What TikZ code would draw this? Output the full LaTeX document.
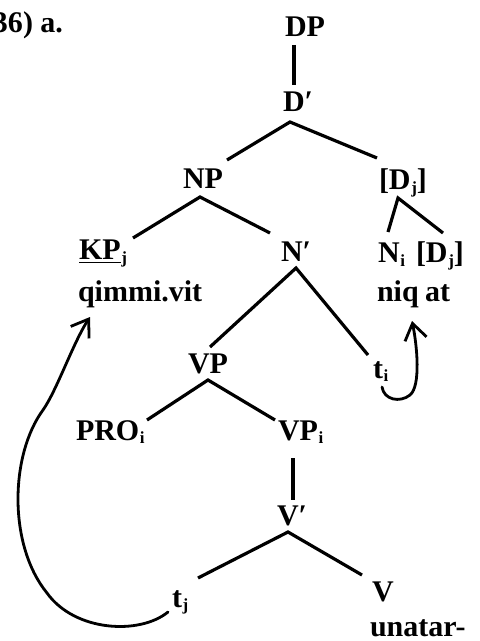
\documentclass[tikz,border=0pt]{standalone}
\usepackage{fontspec}
\setmainfont{Liberation Serif}[Ligatures=ResetAll]
\usetikzlibrary{arrows.meta}
\newcommand\lsub[1]{\kern0.3pt\raisebox{-0.25ex}{\fontsize{8.5pt}{8.5pt}\selectfont #1}}
\newcommand\prm{\char"2032\relax}
\begin{document}
\begin{tikzpicture}[x=0.5pt,y=-0.5pt,
  lab/.style={anchor=base west,inner sep=0pt,outer sep=0pt,
    font=\bfseries\fontsize{15pt}{18pt}\selectfont},
  edge/.style={line width=1.6pt},
  mv/.style={line width=1.4pt,line cap=round,
    -{Straight Barb[length=8pt,width=11pt,line width=1.4pt]}}]
\useasboundingbox (0,0) rectangle (480,641);
% labels
\node[lab] (ex) at (-7,33) {36) a.};
\node[lab] (DP) at (285,37) {DP};
\node[lab] (Dbar) at (283,112) {D\prm};
\node[lab] (NP) at (183,189) {NP};
\node[lab] (Dj) at (379,190) {[D\lsub{j}]};
\node[lab] (KP) at (79,260) {\underline{KP}\lsub{j}};
\node[lab] (qv) at (78,301) {qimmi.vit};
\node[lab] (Nbar) at (281,262) {N\prm};
\node[lab] (Ni) at (378,263) {N\lsub{i}};
\node[lab] (Dj2) at (416,263) {[D\lsub{j}]};
\node[lab] (niq) at (377,301) {niq};
\node[lab] (at) at (425,301) {at};
\node[lab] (VP) at (188,373) {VP};
\node[lab] (ti) at (373,378) {t\lsub{i}};
\node[lab] (PRO) at (76,440) {PRO\lsub{i}};
\node[lab] (VPi) at (278,440) {VP\lsub{i}};
\node[lab] (Vbar) at (277,525) {V\prm};
\node[lab] (tj) at (172,607) {t\lsub{j}};
\node[lab] (V) at (372,601) {V};
\node[lab] (un) at (370,636) {unatar-};
% tree edges
\draw[edge] ([shift={(9,8)}]DP.base west) -- ([shift={(11,-27)}]Dbar.base west);
\draw[edge] ([shift={(44,-29)}]NP.base west) -- ([shift={(7,10)}]Dbar.base west) -- ([shift={(-2,-32)}]Dj.base west);
\draw[edge] ([shift={(54,-22)}]KP.base west) -- ([shift={(17,8)}]NP.base west) -- ([shift={(-11,-29)}]Nbar.base west);
\draw[edge] ([shift={(10,-31)}]Ni.base west) -- ([shift={(19,8)}]Dj.base west) -- ([shift={(27,-30)}]Dj2.base west);
\draw[edge] ([shift={(22,-26)}]VP.base west) -- ([shift={(15,6)}]Nbar.base west) -- ([shift={(-5,-23)}]ti.base west);
\draw[edge] ([shift={(71,-20)}]PRO.base west) -- ([shift={(20,7)}]VP.base west) -- ([shift={(-3,-20)}]VPi.base west);
\draw[edge] ([shift={(15,18)}]VPi.base west) -- ([shift={(16,-25)}]Vbar.base west);
\draw[edge] ([shift={(26,-29)}]tj.base west) -- ([shift={(11,7)}]Vbar.base west) -- ([shift={(-10,-26)}]V.base west);
% movement arrows
\draw[mv] ([shift={(9,9)}]ti.base west) .. controls (384,400) and (400,403) .. (410,395)
  .. controls (421,386) and (417,345) .. ([shift={(35,20)}]niq.base west);
\draw[mv] ([shift={(-4,5)}]tj.base west) .. controls (140,635) and (75,632) .. (47,593)
  .. controls (8,545) and (10,455) .. (43,410)
  .. controls (57,390) and (73,343) .. ([shift={(12,16)}]qv.base west);
\end{tikzpicture}
\end{document}
